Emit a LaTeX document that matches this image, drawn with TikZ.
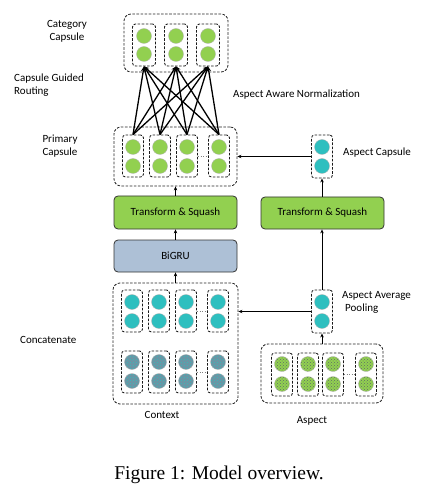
\documentclass[tikz,border=0pt]{standalone}
\usepackage{fontspec}
\setmainfont{Carlito}
\newfontfamily\capfont{Liberation Serif}
\usetikzlibrary{arrows.meta,patterns}
\definecolor{cgreen}{HTML}{92D050}
\definecolor{cteal}{HTML}{2EBFBF}
\definecolor{cblue}{HTML}{ADC0D6}
\definecolor{cgraybl}{HTML}{6F93A3}
\definecolor{cdot}{HTML}{5E6E66}
\begin{document}
\begin{tikzpicture}[x=1pt,y=-1pt, font=\fontsize{11}{13}\selectfont,
  outerbox/.style={draw=black!85, dash pattern=on 2.6pt off 1.5pt, line width=0.85pt, rounded corners=7pt, inner sep=0pt},
  innerbox/.style={draw=black!90, dash pattern=on 2.6pt off 1.5pt, line width=0.85pt, rounded corners=3pt, minimum width=21pt, minimum height=42pt, inner sep=0pt},
  capc/.style={circle, minimum size=15pt, inner sep=0pt, draw=gray!60, line width=0.3pt},
  gcap/.style={capc, fill=cgreen},
  tcap/.style={capc, fill=cteal},
  ccap/.style={capc, preaction={fill=cgraybl}, pattern=crosshatch dots, pattern color=cteal},
  acap/.style={capc, preaction={fill=cgreen}, pattern=crosshatch dots, pattern color=cdot},
  procbox/.style={draw=black!80, line width=0.8pt, rounded corners=4pt, minimum width=123pt, minimum height=33pt},
  arr/.style={-{Stealth[length=4pt,width=3.5pt]}, line width=1pt},
  route/.style={-{Stealth[length=5pt,width=4.5pt]}, line width=1.3pt},
  lbl/.style={inner sep=0pt},
  dotsep/.style={dotted, line width=0.6pt, gray}
]
\useasboundingbox (0,0) rectangle (428,502);

% Category capsule
\node[outerbox, minimum width=104pt, minimum height=58pt] (cat) at (176,43) {};
\foreach \x [count=\i] in {144,176,208} {
  \node[innerbox, minimum width=23pt] (catb\i) at (\x,45) {};
  \node[gcap] (catu\i) at (\x,36) {};
  \node[gcap] (catl\i) at (\x,54) {};
}

% Primary capsule
\node[outerbox, minimum width=123pt, minimum height=59pt] (prim) at (175.5,156.5) {};
\foreach \x [count=\i] in {133,160,187,219} {
  \node[innerbox] (prb\i) at (\x,156) {};
  \node[gcap] (pru\i) at (\x,147) {};
  \node[gcap] (prl\i) at (\x,166) {};
}
\draw[dotsep] (prb3.east) -- (prb4.west);

% Routing
\foreach \j in {1,...,4} {
  \foreach \i in {1,2,3} {
    \draw[route] (prb\j.north) -- (catb\i.south);
  }
}

% Aspect capsule
\node[innerbox, minimum height=43pt] (acap) at (322,156.5) {};
\node[tcap] (acu) at (322,147) {};
\node[tcap] (acl) at (322,166) {};

% Processing boxes
\node[procbox, fill=cgreen] (lts) at (175.5,212.5) {Transform \& Squash};
\node[procbox, fill=cblue, minimum height=32pt] (bigru) at (175.5,256) {BiGRU};
\node[procbox, fill=cgreen, minimum height=32pt] (rts) at (322.5,213) {Transform \& Squash};

% Context
\node[outerbox, minimum width=125pt, minimum height=121pt] (ctx) at (175.5,343.5) {};
\foreach \x [count=\i] in {132,159,186,218} {
  \node[innerbox] (ctt\i) at (\x,311) {};
  \node[tcap] (cttu\i) at (\x,302) {};
  \node[tcap] (cttl\i) at (\x,321) {};
  \node[innerbox] (ctb\i) at (\x,372) {};
  \node[ccap] (ctbu\i) at (\x,362) {};
  \node[ccap] (ctbl\i) at (\x,381) {};
}
\draw[dotsep] (ctt3.east) -- (ctt4.west);
\draw[dotsep] (ctb3.east) -- (ctb4.west);

% Aspect
\node[outerbox, minimum width=122pt, minimum height=59pt] (asp) at (322,373.5) {};
\foreach \x [count=\i] in {282,308,333,366} {
  \node[innerbox, minimum height=43pt] (asb\i) at (\x,374.5) {};
  \node[acap] (asu\i) at (\x,364) {};
  \node[acap] (asl\i) at (\x,384) {};
}
\draw[dotsep] (asb3.east) -- (asb4.west);

% Pooling
\node[innerbox, minimum height=43pt] (pool) at (322,311.5) {};
\node[tcap] (poolu) at (322,302) {};
\node[tcap] (pooll) at (322,321) {};

% Arrows
\draw[arr] (acap.west) -- (acap.west -| prim.east);
\draw[arr] (lts.north) -- (lts.north |- prim.south);
\draw[arr] (bigru.north) -- (lts.south);
\draw[arr] (ctx.north) -- (bigru.south);
\draw[arr] (rts.north -| acap.south) -- (acap.south);
\draw[arr] (pool.north) -- (pool.north |- rts.south);
\draw[arr] (asp.north) -- (pool.south);
\draw[arr] (pool.west) -- (pool.west -| ctx.east);

% Labels
\node[lbl, align=center] (lcat) at (67,31) {Category\\Capsule};
\node[lbl, align=left, anchor=west] (lrout) at (14,85) {Capsule Guided\\Routing};
\node[lbl, align=center] (lprim) at (60,146.5) {Primary\\Capsule};
\node[lbl, anchor=west] (lconc) at (20,340) {Concatenate};
\node[lbl, anchor=west] (lnorm) at (233,95) {Aspect Aware Normalization};
\node[lbl, anchor=west] (lacap) at (343,153) {Aspect Capsule};
\node[lbl, align=left, anchor=west] (lpool) at (342,302) {Aspect Average\\\hspace{3pt}Pooling};
\node[lbl] (lctx) at (162,415) {Context};
\node[lbl] (lasp) at (312,421) {Aspect};
\node[lbl, font=\capfont\fontsize{19.5}{22}\selectfont] (capt) at (219,475) {Figure 1: Model overview.};
\end{tikzpicture}
\end{document}
